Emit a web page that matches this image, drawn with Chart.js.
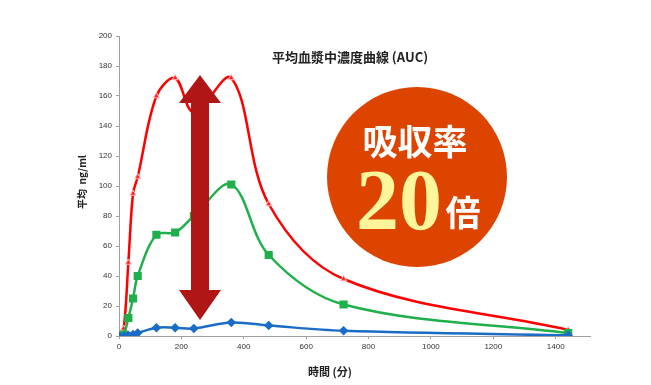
<!DOCTYPE html>
<html>
<head>
<meta charset="utf-8">
<script src="https://cdn.jsdelivr.net/npm/chart.js@4.4.1/dist/chart.umd.min.js"></script>
<style>
  html, body { margin: 0; padding: 0; background: #fff; }
  canvas { display: block; }
</style>
</head>
<body>
<canvas id="auc" width="651" height="385"></canvas>
<script>
// 時間 (分)
var times = [0, 15, 30, 45, 60, 120, 180, 240, 360, 480, 720, 1440];
// 平均血漿中濃度 ng/ml
var redValues = [0, 5, 49, 95, 106, 160, 172, 149, 172, 88, 38, 4];
var greenValues = [0, 1, 12, 25, 40, 67.5, 69, 80, 101, 54, 21, 2];
var blueValues = [0, 0, 0.5, 1, 2, 5.5, 5.5, 5, 9, 7, 3.5, 0.5];
var xTickValues = [0, 200, 400, 600, 800, 1000, 1200, 1400];

function toPoints(vals) {
    return times.map(function(t, i) { return { x: t, y: vals[i] }; });
}

var cjk = '"Noto Sans CJK JP", "Noto Sans", sans-serif';

var decoPlugin = {
    id: 'deco',
    afterDatasetsDraw: function(chart) {
        var c = chart.ctx;
        c.save();
        // 矢印
        c.fillStyle = '#b01616';
        c.beginPath();
        c.moveTo(200, 75);
        c.lineTo(221, 103);
        c.lineTo(209, 103);
        c.lineTo(209, 290);
        c.lineTo(221, 290);
        c.lineTo(200, 320);
        c.lineTo(179, 290);
        c.lineTo(191, 290);
        c.lineTo(191, 103);
        c.lineTo(179, 103);
        c.closePath();
        c.fill();

        // 円
        c.fillStyle = '#dd4400';
        c.beginPath();
        c.arc(417, 177, 90, 0, Math.PI * 2);
        c.fill();

        c.textBaseline = 'alphabetic';
        c.textAlign = 'center';
        c.fillStyle = '#ffffff';
        c.font = 'bold 35px ' + cjk;
        c.fillText('吸収率', 415, 155);
        c.fillStyle = '#fff59a';
        c.font = 'bold 86px "Liberation Serif", "DejaVu Serif", serif';
        c.fillText('20', 399, 229);
        c.fillStyle = '#ffffff';
        c.font = 'bold 35px ' + cjk;
        c.fillText('倍', 463, 226);

        // タイトル
        c.fillStyle = '#222';
        c.font = 'bold 13px ' + cjk;
        c.textBaseline = 'middle';
        c.fillText('平均血漿中濃度曲線 (AUC)', 350, 57);
        c.font = 'bold 11px ' + cjk;
        c.fillText('時間 (分)', 330, 372);
        c.translate(82, 182);
        c.rotate(-Math.PI / 2);
        c.font = 'bold 10px ' + cjk;
        c.fillText('平均  ng/ml', 0, 0);
        c.restore();
    }
};

var ctx = document.getElementById('auc').getContext('2d');
var chart = new Chart(ctx, {
    type: 'line',
    data: {
        datasets: [{
            data: toPoints(blueValues),
            borderColor: '#1a6cc6',
            backgroundColor: '#1a6cc6',
            borderWidth: 2.5,
            pointStyle: 'rectRot',
            pointRadius: 3,
            tension: 0.35
        }, {
            data: toPoints(greenValues),
            borderColor: '#1fb04b',
            backgroundColor: '#1fb04b',
            borderWidth: 2.5,
            pointStyle: 'rect',
            pointRadius: 4,
            tension: 0.35
        }, {
            data: toPoints(redValues),
            borderColor: '#ff0000',
            backgroundColor: '#ff2020',
            pointBorderColor: '#ffc0c0',
            pointBorderWidth: 1,
            borderWidth: 2.5,
            pointStyle: 'triangle',
            pointRadius: 3.5,
            tension: 0.35
        }]
    },
    options: {
        responsive: false,
        animation: false,
        layout: { padding: { top: 36, right: 61, left: 0, bottom: 0 } },
        plugins: { legend: { display: false }, title: { display: false }, tooltip: { enabled: false } },
        scales: {
            x: {
                type: 'linear',
                min: 0,
                max: 1510,
                afterBuildTicks: function(s) {
                    s.ticks = xTickValues.map(function(v) { return { value: v }; });
                },
                afterFit: function(s) { s.height = 49; },
                border: { color: '#a0a0a0', width: 1 },
                grid: { drawOnChartArea: false, tickLength: 3, color: '#a0a0a0' },
                ticks: {
                    color: '#333',
                    font: { family: 'Liberation Sans', size: 8 },
                    padding: 3,
                    maxRotation: 0,
                    callback: function(v) { return String(v); }
                }
            },
            y: {
                min: 0,
                max: 200,
                ticks: { stepSize: 20, color: '#333', font: { family: 'Liberation Sans', size: 8 }, padding: 4 },
                afterFit: function(s) { s.width = 119; },
                border: { color: '#a0a0a0', width: 1 },
                grid: { drawOnChartArea: false, tickLength: 3, color: '#a0a0a0' }
            }
        }
    },
    plugins: [decoPlugin]
});
</script>
</body>
</html>
